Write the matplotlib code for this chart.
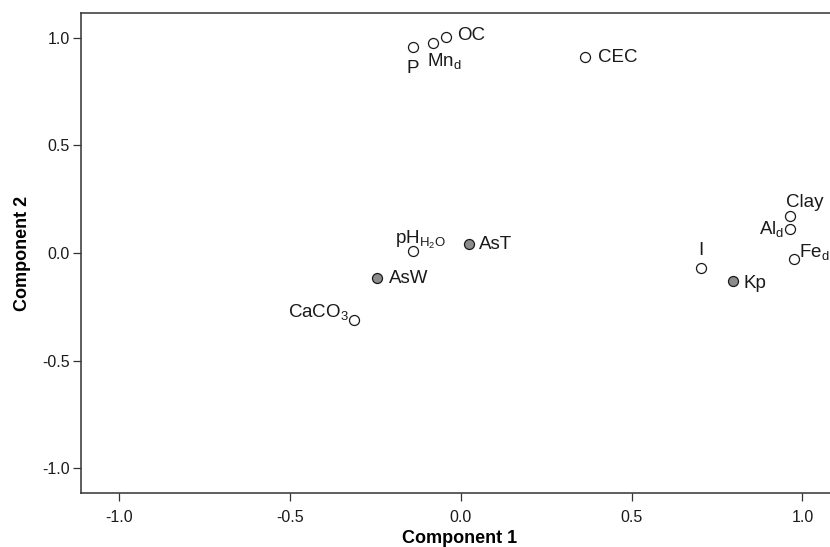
import matplotlib
matplotlib.use("Agg")
import matplotlib.pyplot as plt

plt.rcParams['font.family'] = ['Liberation Sans', 'DejaVu Sans']
plt.rcParams['mathtext.fontset'] = 'custom'
plt.rcParams['mathtext.rm'] = 'Liberation Sans'
plt.rcParams['mathtext.it'] = 'Liberation Sans:italic'
plt.rcParams['mathtext.bf'] = 'Liberation Sans:bold'

labels = ['P', r'Mn$_\mathrm{d}$', 'OC', 'CEC', r'pH$_{\mathrm{H_2O}}$', 'AsT', 'AsW',
          r'CaCO$_\mathrm{3}$', 'I', 'Kp', 'Clay', r'Al$_\mathrm{d}$', r'Fe$_\mathrm{d}$']
comp1 = [-0.140, -0.082, -0.044, 0.365, -0.140, 0.023, -0.246, -0.313, 0.702, 0.798, 0.965, 0.965, 0.974]
comp2 = [0.956, 0.974, 1.002, 0.909, 0.009, 0.042, -0.116, -0.311, -0.070, -0.130, 0.172, 0.111, -0.028]
is_as = [False, False, False, False, False, True, True, False, False, True, False, False, False]

# label offsets in pixels (dx, dy, ha, va)
offsets = [(0, -21, 'center', 'center'), (-6, -18, 'left', 'center'), (11, 2, 'left', 'center'),
           (13, 0, 'left', 'center'), (-18, 11, 'left', 'center'), (10, -1, 'left', 'center'),
           (12, -1, 'left', 'center'), (-5, 8, 'right', 'center'), (0, 18, 'center', 'center'),
           (10, -2, 'left', 'center'), (14, 13, 'center', 'center'), (-6, 0, 'right', 'center'),
           (5, 7, 'left', 'center')]

fig = plt.figure(figsize=(8.3, 5.47), dpi=100)
ax = fig.add_axes([80.5 / 830, 54 / 547, (830 - 80.5) / 830 + 0.01, (493 - 13) / 547])

for x, y, a in zip(comp1, comp2, is_as):
    ax.scatter([x], [y], s=52, facecolor='#8c8c8c' if a else 'white',
               edgecolor='#1a1a1a', linewidth=0.9, zorder=3)

for lab, x, y, (dx, dy, ha, va) in zip(labels, comp1, comp2, offsets):
    ax.annotate(lab, (x, y), xytext=(dx, dy), textcoords='offset pixels',
                ha=ha, va=va, fontsize=13.5, color='#1a1a1a')

ax.set_xlim(-1.113, 1.105)
ax.set_ylim(-1.114, 1.114)
ax.set_xticks([-1.0, -0.5, 0.0, 0.5, 1.0])
ax.set_yticks([-1.0, -0.5, 0.0, 0.5, 1.0])
ax.set_xticklabels(['-1.0', '-0.5', '0.0', '0.5', '1.0'])
ax.set_yticklabels(['-1.0', '-0.5', '0.0', '0.5', '1.0'])
ax.tick_params(direction='out', length=5.5, width=0.9, colors='#333333', labelsize=11.5,
               labelcolor='#1a1a1a')
ax.tick_params(axis='x', pad=7)
ax.tick_params(axis='y', pad=2)
for s in ['left', 'bottom', 'top']:
    ax.spines[s].set_color('#333333')
    ax.spines[s].set_linewidth(1.1)
ax.spines['right'].set_visible(False)

ax.set_xlabel('Component 1', fontsize=13, fontweight='bold', labelpad=3)
ax.set_ylabel('Component 2', fontsize=13, fontweight='bold', labelpad=8)

fig.savefig('out.png', dpi=100)
